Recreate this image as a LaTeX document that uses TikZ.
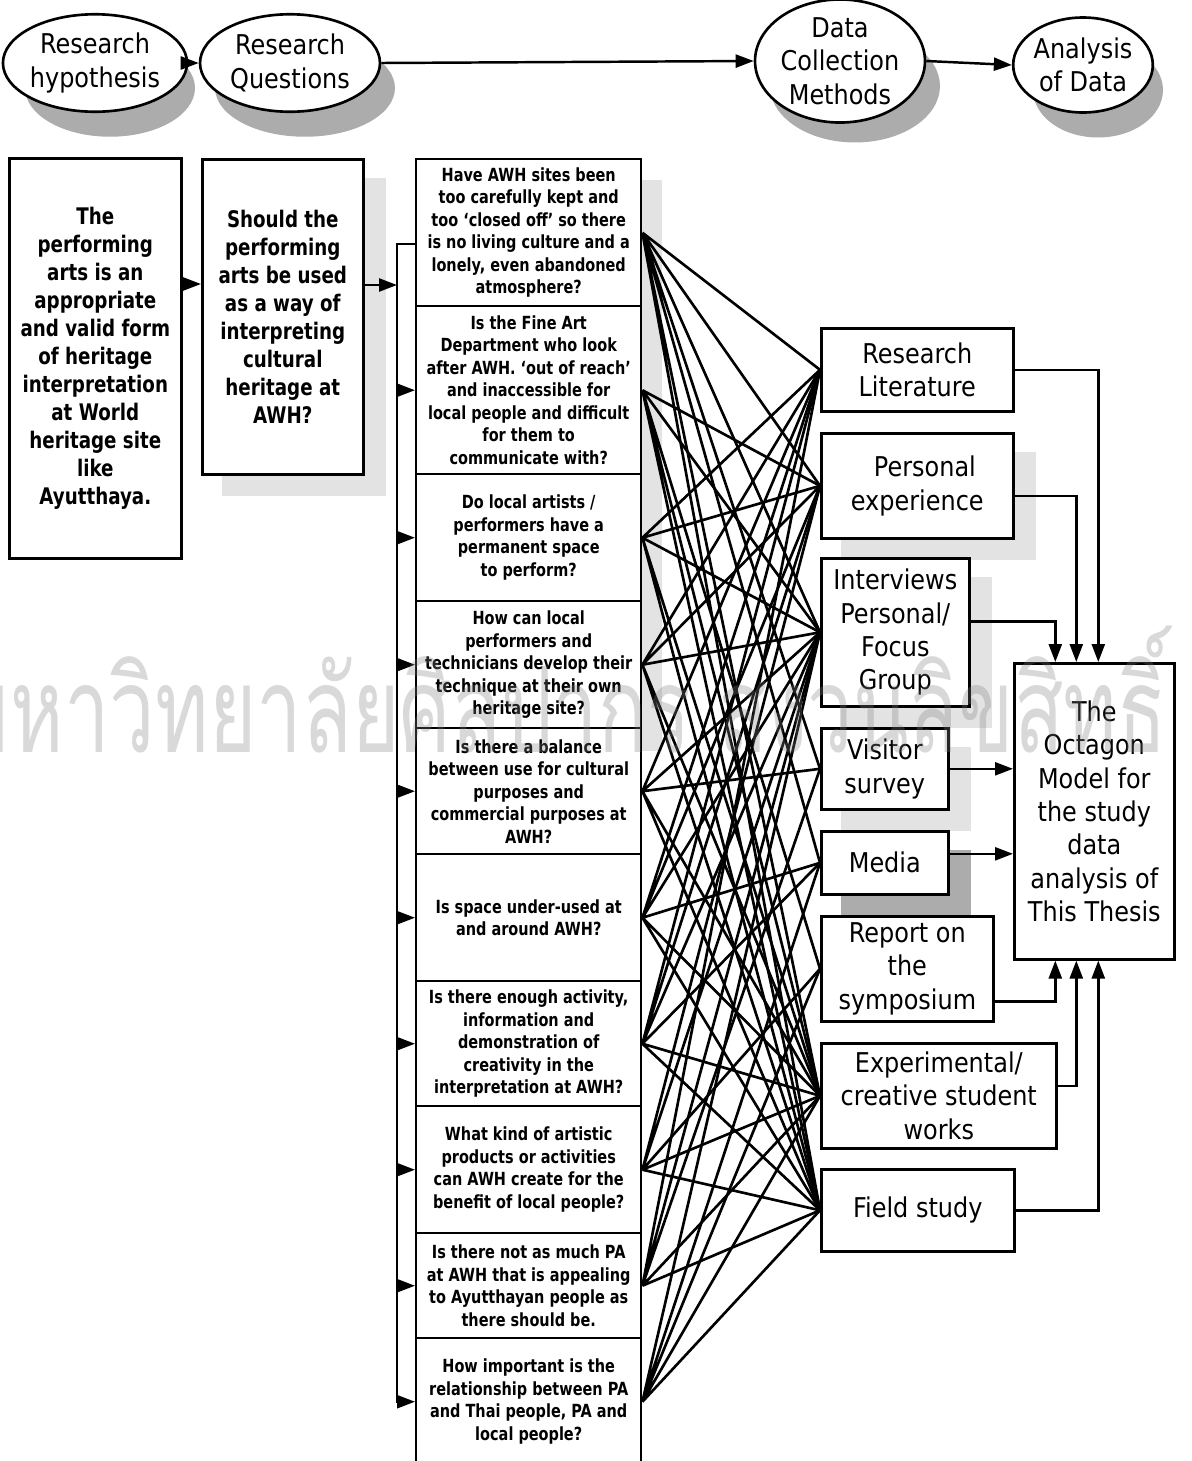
\documentclass[tikz,border=0pt]{standalone}
\usepackage{fontspec}
\setmainfont{DejaVu Sans}
\newfontfamily\mfont{DejaVu Sans}[FakeStretch=0.88]
\newfontfamily\qfont{DejaVu Sans}[FakeStretch=0.8]
\newfontfamily\thaifont{Loma}[Script=Thai,FakeStretch=0.68]
\usepackage{tikz}
\usetikzlibrary{arrows.meta,shapes,positioning,calc}
\pgfdeclarelayer{bg}
\pgfsetlayers{bg,main}

\begin{document}
\begin{tikzpicture}[x = 0.02cm, y = -0.02cm,
  oval/.style = {ellipse, draw, fill = white, line width = 1.5pt, inner sep = 0pt, align = center, font = \mfont\fontsize{15.5}{19}\selectfont},
  ovalshadow/.style = {ellipse, fill = gray!65, inner sep = 0pt},
  bigbox/.style = {rectangle, draw, fill = white, line width = 1.5pt, anchor = north west, inner sep = 0pt, align = center, font = \qfont\bfseries\fontsize{13}{15.9}\selectfont},
  qbox/.style = {rectangle, draw, fill = white, line width = 1.4pt, anchor = north west, minimum width = 4.5cm, inner sep = 0pt, align = center, font = \qfont\bfseries\fontsize{10.3}{12.8}\selectfont},
  mbox/.style = {rectangle, draw, fill = white, line width = 1.5pt, anchor = north west, inner sep = 0pt, align = center, font = \mfont\fontsize{15.5}{19}\selectfont},
  arr/.style = {-{Triangle[length = 0.36cm, width = 0.26cm]}, line width = 1.4pt},
  link/.style = {line width = 1.5pt},
  softshadow/.style = {fill = gray!22},
  hardshadow/.style = {fill = gray!65}]
\useasboundingbox (0,0) rectangle (1191,1461);

% Top row
\node[oval, minimum width = 3.4cm, minimum height = 1.95cm] (hype) at (95,63) {Research\\hypothesis};
\node[oval, minimum width = 3.6cm, minimum height = 1.95cm] (rqe) at (290,63) {Research\\Questions};
\node[oval, minimum width = 3.4cm, minimum height = 2.26cm] (dcm) at (840,61) {Data\\Collection\\Methods};
\node[oval, minimum width = 2.6cm, minimum height = 1.9cm] (ana) at (1083,65) {Analysis\\of Data};
\draw[arr] (hype.east) -- (rqe.west);
\draw[arr] (rqe.east) -- (dcm.west);
\draw[arr] (dcm.east) -- (ana.west);

% Hypothesis and question
\node[bigbox, minimum width = 3.44cm, minimum height = 8cm] (hyp) at (8,157) {The\\performing\\arts is an\\appropriate\\and valid form\\of heritage\\interpretation\\at World\\heritage site\\like\\Ayutthaya.};
\node[bigbox, minimum width = 3.22cm, minimum height = 6.3cm] (rq) at (201,158) {Should the\\performing\\arts be used\\as a way of\\interpreting\\cultural\\heritage at\\AWH?};
\coordinate (rqin) at (201,284);
\coordinate (busin) at (397,285);
\coordinate (bustop) at (397,244);
\draw[arr] (hyp.east |- rqin) -- (rqin);
\draw[arr] (rq.east |- busin) -- (busin);

% Research questions
\node[qbox, minimum height = 2.94cm] (q1) at (415,158) {Have AWH sites been\\too carefully kept and\\too ‘closed off’ so there\\is no living culture and a\\lonely, even abandoned\\atmosphere?};
\node[qbox, minimum height = 3.36cm] (q2) at (415,305) {Is the Fine Art\\Department who look\\after AWH. ‘out of reach’\\and inaccessible for\\local people and difficult\\for them to\\communicate with?};
\node[qbox, minimum height = 2.54cm] (q3) at (415,473) {Do local artists /\\performers have a\\permanent space\\to perform?};
\node[qbox, minimum height = 2.54cm] (q4) at (415,600) {How can local\\performers and\\technicians develop their\\technique at their own\\heritage site?};
\node[qbox, minimum height = 2.52cm] (q5) at (415,727) {Is there a balance\\between use for cultural\\purposes and\\commercial purposes at\\AWH?};
\node[qbox, minimum height = 2.54cm] (q6) at (415,853) {Is space under-used at\\and around AWH?};
\node[qbox, minimum height = 2.5cm] (q7) at (415,980) {Is there enough activity,\\information and\\demonstration of\\creativity in the\\interpretation at AWH?};
\node[qbox, minimum height = 2.54cm] (q8) at (415,1105) {What kind of artistic\\products or activities\\can AWH create for the\\benefit of local people?};
\node[qbox, minimum height = 2.1cm] (q9) at (415,1232) {Is there not as much PA\\at AWH that is appealing\\to Ayutthayan people as\\there should be.};
\node[qbox, minimum height = 2.54cm] (q10) at (415,1337) {How important is the\\relationship between PA\\and Thai people, PA and\\local people?};
\draw[arr] (q1.west |- bustop) -- (bustop) |- (q10.west);
\draw[arr] (bustop |- q2.west) -- (q2.west);
\draw[arr] (bustop |- q3.west) -- (q3.west);
\draw[arr] (bustop |- q4.west) -- (q4.west);
\draw[arr] (bustop |- q5.west) -- (q5.west);
\draw[arr] (bustop |- q6.west) -- (q6.west);
\draw[arr] (bustop |- q7.west) -- (q7.west);
\draw[arr] (bustop |- q8.west) -- (q8.west);
\draw[arr] (bustop |- q9.west) -- (q9.west);

% Data collection methods
\node[mbox, minimum width = 3.84cm, minimum height = 1.66cm] (rl) at (820,327) {Research\\Literature};
\node[mbox, minimum width = 3.84cm, minimum height = 2.1cm] (pe) at (820,432) {\ \ Personal\\experience};
\node[mbox, minimum width = 2.96cm, minimum height = 2.96cm] (iv) at (820,557) {Interviews\\Personal/\\Focus\\Group};
\node[mbox, minimum width = 2.54cm, minimum height = 1.62cm] (vs) at (820,727) {Visitor\\survey};
\node[mbox, minimum width = 2.54cm, minimum height = 1.26cm] (me) at (820,830) {Media};
\node[mbox, minimum width = 3.44cm, minimum height = 2.1cm] (rs) at (820,915) {Report on\\the\\symposium};
\node[mbox, minimum width = 4.7cm, minimum height = 2.1cm] (ex) at (820,1042) {Experimental/\\creative student\\works};
\node[mbox, minimum width = 3.86cm, minimum height = 1.64cm] (fs) at (820,1168) {Field study};
\node[mbox, minimum width = 3.2cm, minimum height = 5.92cm] (oct) at (1013,662) {The\\Octagon\\Model for\\the study\\data\\analysis of\\This Thesis};

% Questions to methods
\draw[link] (q1.east) -- (rl.west) (q1.east) -- (pe.west) (q1.east) -- (iv.west) (q1.east) -- (vs.west) (q1.east) -- (me.west) (q1.east) -- (ex.west) (q1.east) -- (fs.west);
\draw[link] (q2.east) -- (pe.west) (q2.east) -- (iv.west) (q2.east) -- (rs.west) (q2.east) -- (ex.west) (q2.east) -- (fs.west);
\draw[link] (q3.east) -- (rl.west) (q3.east) -- (pe.west) (q3.east) -- (iv.west) (q3.east) -- (ex.west) (q3.east) -- (fs.west);
\draw[link] (q4.east) -- (rl.west) (q4.east) -- (pe.west) (q4.east) -- (iv.west) (q4.east) -- (ex.west) (q4.east) -- (fs.west);
\draw[link] (q5.east) -- (rl.west) (q5.east) -- (iv.west) (q5.east) -- (vs.west) (q5.east) -- (ex.west) (q5.east) -- (fs.west);
\draw[link] (q6.east) -- (rl.west) (q6.east) -- (pe.west) (q6.east) -- (iv.west) (q6.east) -- (me.west) (q6.east) -- (ex.west) (q6.east) -- (fs.west);
\draw[link] (q7.east) -- (rl.west) (q7.east) -- (pe.west) (q7.east) -- (iv.west) (q7.east) -- (me.west) (q7.east) -- (ex.west) (q7.east) -- (fs.west);
\draw[link] (q8.east) -- (pe.west) (q8.east) -- (iv.west) (q8.east) -- (rs.west) (q8.east) -- (ex.west) (q8.east) -- (fs.west);
\draw[link] (q9.east) -- (rl.west) (q9.east) -- (iv.west) (q9.east) -- (vs.west) (q9.east) -- (ex.west) (q9.east) -- (fs.west);
\draw[link] (q10.east) -- (iv.west) (q10.east) -- (me.west) (q10.east) -- (rs.west) (q10.east) -- (ex.west) (q10.east) -- (fs.west);

% Methods to the model
\coordinate (peout) at ([yshift = -0.2cm]pe.east);
\coordinate (ivout) at ([yshift = 0.22cm]iv.east);
\coordinate (meout) at ([yshift = 0.18cm]me.east);
\coordinate (rsout) at ([yshift = -0.65cm]rs.east);
\coordinate (exout) at ([yshift = 0.2cm]ex.east);
\draw[arr] (rl.east) -| ([xshift = 0.08cm]oct.north);
\draw[arr] (peout) -| ([xshift = -0.36cm]oct.north);
\draw[arr] (ivout) -| ([xshift = -0.78cm]oct.north);
\draw[arr] (vs.east) -- (oct.west |- vs.east);
\draw[arr] (meout) -- (oct.west |- meout);
\draw[arr] (rsout) -| ([xshift = -0.78cm]oct.south);
\draw[arr] (exout) -| ([xshift = -0.36cm]oct.south);
\draw[arr] (fs.east) -| ([xshift = 0.08cm]oct.south);

% Shadows
\begin{pgfonlayer}{bg}
\node[ovalshadow, minimum width = 3.4cm, minimum height = 1.95cm] at ([shift = {(0.3cm,-0.5cm)}]hype.center) {};
\node[ovalshadow, minimum width = 3.6cm, minimum height = 1.95cm] at ([shift = {(0.3cm,-0.5cm)}]rqe.center) {};
\node[ovalshadow, minimum width = 3.4cm, minimum height = 2.26cm] at ([shift = {(0.3cm,-0.5cm)}]dcm.center) {};
\node[ovalshadow, minimum width = 2.6cm, minimum height = 1.9cm] at ([shift = {(0.3cm,-0.5cm)}]ana.center) {};
\fill[softshadow] ([shift = {(0.42cm,-0.4cm)}]rq.north west) rectangle ([shift = {(0.42cm,-0.4cm)}]rq.south east);
\fill[softshadow] ([shift = {(0cm,-0.44cm)}]q1.north east) rectangle ([shift = {(0.4cm,-0.44cm)}]q4.south east);
\fill[softshadow] ([shift = {(0.42cm,-0.4cm)}]pe.north west) rectangle ([shift = {(0.42cm,-0.4cm)}]pe.south east);
\fill[softshadow] ([shift = {(0.42cm,-0.4cm)}]iv.north west) rectangle ([shift = {(0.42cm,-0.4cm)}]iv.south east);
\fill[softshadow] ([shift = {(0.42cm,-0.4cm)}]vs.north west) rectangle ([shift = {(0.42cm,-0.4cm)}]vs.south east);
\fill[hardshadow] ([shift = {(0.42cm,-0.4cm)}]me.north west) rectangle ([shift = {(0.42cm,-0.4cm)}]me.south east);
\end{pgfonlayer}

% Watermark
\node[font = \thaifont\fontsize{68}{68}\selectfont, text = gray, text opacity = 0.3] (mark) at (562,690) {มหาวิทยาลัยศิลปากร สงวนลิขสิทธิ์};
\end{tikzpicture}
\end{document}
